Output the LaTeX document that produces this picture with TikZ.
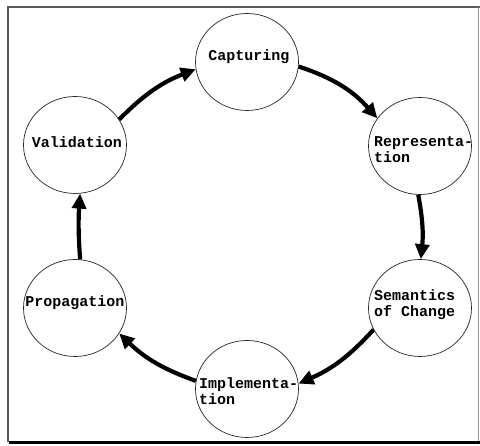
\documentclass[tikz,border=0pt]{standalone}
\usepackage{fontspec}
\setmonofont{Liberation Mono}
\usetikzlibrary{shapes.geometric,arrows.meta}
\begin{document}
\begin{tikzpicture}[x=1pt,y=1pt,
  stage/.style={ellipse,draw=black!85,line width=0.7pt,inner sep=0pt,
                minimum width=103pt,minimum height=97pt},
  lbl/.style={font=\fontsize{15}{16}\selectfont\ttfamily\bfseries,
              inner sep=0pt,align=left},
  flow/.style={line width=4.2pt,-{Triangle[length=15pt,width=14pt]}},
  frameline/.style={draw=black!65,line width=1.4pt}]
  \useasboundingbox (0,0) rectangle (480,446);
  % outer frame
  \draw[frameline] (8,4) -- (8,439) -- (480,439);
  \draw[black!40,line width=0.8pt] (478,439) -- (478,4);
  \draw[black,line width=2.2pt] (9,3.5) -- (480,3.5);
  % stages of the cycle
  \node[stage] (cap)  at (247,384) {};
  \node[stage] (rep)  at (420,300) {};
  \node[stage] (sem)  at (420,138) {};
  \node[stage] (imp)  at (247,57)  {};
  \node[stage] (prop) at (75,138)  {};
  \node[stage] (val)  at (75,301)  {};
  % stage names
  \node[lbl] (tcap)  at (249,389) {Capturing};
  \node[lbl,anchor=west] (trep) at (374,296) {Representa-\\tion};
  \node[lbl,anchor=west] (tsem) at (374,141) {Semantics\\of Change};
  \node[lbl,anchor=west] (timp) at (199,55)  {Implementa-\\tion};
  \node[lbl] (tprop) at (75,143) {Propagation};
  \node[lbl] (tval)  at (77,304) {Validation};
  % transitions, clockwise
  \draw[flow] (cap.-5)   to[bend left=15] (rep.147);
  \draw[flow] (rep.-92)  to[bend left=8]  (sem.89);
  \draw[flow] (sem.205)  to[bend left=12] (imp.6);
  \draw[flow] (imp.171)  to[bend left=12] (prop.-30);
  \draw[flow] (prop.84)  to[bend left=4]  (val.-84);
  \draw[flow] (val.30)   to[bend left=12] (cap.188);
\end{tikzpicture}
\end{document}
